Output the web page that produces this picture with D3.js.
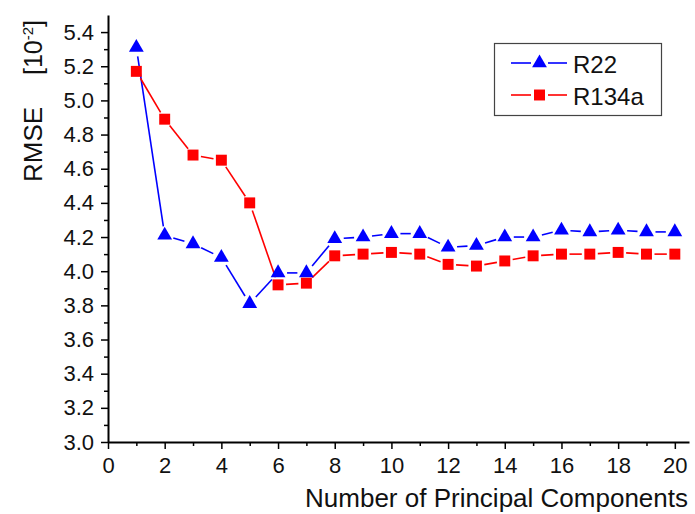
<!DOCTYPE html>
<html>
<head>
<meta charset="utf-8">
<script src="https://cdn.jsdelivr.net/npm/d3@7/dist/d3.min.js"></script>
<style>
  html, body { margin: 0; padding: 0; background: #fff; }
  svg { display: block; font-family: "Liberation Sans", Arial, sans-serif; }
</style>
</head>
<body>
<svg id="chart" width="695" height="514"></svg>
<script>
// Number of principal components retained
const components = d3.range(1, 21);
// RMSE (x10^-2) per refrigerant
const r22 = [5.31, 4.21, 4.16, 4.08, 3.81, 3.99, 3.99, 4.19, 4.20, 4.22,
             4.22, 4.14, 4.15, 4.20, 4.20, 4.24, 4.23, 4.24, 4.23, 4.23];
const r134a = [5.17, 4.89, 4.68, 4.65, 4.40, 3.92, 3.93, 4.09, 4.10, 4.11,
               4.10, 4.04, 4.03, 4.06, 4.09, 4.10, 4.10, 4.11, 4.10, 4.10];
const seriesNames = ["R22", "R134a"];
const xTicks = d3.range(0, 21, 2);
const yTicks = d3.range(0, 13).map(i => +(3.0 + i * 0.2).toFixed(1));

const svg = d3.select("#chart");
const plotLeft = 108, plotRight = 689, plotTop = 15, plotBottom = 442;

const x = d3.scaleLinear().domain([0, 20.5]).range([plotLeft, plotRight]);
const y = d3.scaleLinear().domain([3.0, 5.5]).range([plotBottom, plotTop]);

// Minor ticks
const xMinor = d3.range(1, 21, 2);
const yMinor = d3.range(0, 12).map(i => +(3.1 + i * 0.2).toFixed(1));

svg.append("g").attr("transform", `translate(0,${plotBottom})`)
  .call(d3.axisBottom(x).tickValues(xMinor).tickSize(4).tickFormat(""))
  .call(g => g.select(".domain").remove())
  .selectAll("line").attr("stroke", "#000").attr("stroke-width", 1.5);
svg.append("g").attr("transform", `translate(${plotLeft},0)`)
  .call(d3.axisLeft(y).tickValues(yMinor).tickSize(4).tickFormat(""))
  .call(g => g.select(".domain").remove())
  .selectAll("line").attr("stroke", "#000").attr("stroke-width", 1.5);

// Major axes
const xAxis = svg.append("g").attr("transform", `translate(0,${plotBottom})`)
  .call(d3.axisBottom(x).tickValues(xTicks).tickSize(7).tickSizeOuter(0).tickPadding(8).tickFormat(d3.format("d")));
const yAxis = svg.append("g").attr("transform", `translate(${plotLeft},0)`)
  .call(d3.axisLeft(y).tickValues(yTicks).tickSize(7).tickSizeOuter(0).tickPadding(7).tickFormat(d3.format(".1f")));

[xAxis, yAxis].forEach(g => {
  g.select(".domain").attr("stroke", "#000").attr("stroke-width", 2);
  g.selectAll(".tick line").attr("stroke", "#000").attr("stroke-width", 1.5);
  g.selectAll(".tick text").attr("fill", "#111").style("font-size", "22px")
    .style("font-family", "'Liberation Sans', Arial, sans-serif");
});

// Axis titles
svg.append("text")
  .attr("x", 688).attr("y", 507)
  .attr("text-anchor", "end")
  .style("font-size", "26px").attr("fill", "#111")
  .text("Number of Principal Components");

svg.append("text")
  .attr("transform", "translate(42,182) rotate(-90)")
  .attr("text-anchor", "start")
  .style("font-size", "26px").attr("fill", "#111")
  .text("RMSE");

const unit = svg.append("text")
  .attr("transform", "translate(42,75) rotate(-90)")
  .attr("text-anchor", "start")
  .style("font-size", "25px").attr("fill", "#111");
unit.append("tspan").text("[10");
unit.append("tspan").attr("dy", -9).style("font-size", "15px").text("-2");
unit.append("tspan").attr("dy", 9).text("]");

// Line segments drawn with a gap around each marker
function gappedSegments(values, gap) {
  const pts = values.map((v, i) => [x(components[i]), y(v)]);
  const segs = [];
  for (let i = 0; i < pts.length - 1; i++) {
    const [x0, y0] = pts[i], [x1, y1] = pts[i + 1];
    const dx = x1 - x0, dy = y1 - y0, len = Math.hypot(dx, dy);
    if (len <= 2 * gap) continue;
    const ux = dx / len, uy = dy / len;
    segs.push([[x0 + ux * gap, y0 + uy * gap], [x1 - ux * gap, y1 - uy * gap]]);
  }
  return segs;
}

const line = d3.line();
const series = [
  { name: seriesNames[0], values: r22, color: "#0000ff", symbol: d3.symbolTriangle, size: 95, gap: 9 },
  { name: seriesNames[1], values: r134a, color: "#ff0000", symbol: d3.symbolSquare, size: 120, gap: 8 }
];

series.forEach(s => {
  svg.append("g").selectAll("path")
    .data(gappedSegments(s.values, s.gap))
    .join("path")
    .attr("d", line)
    .attr("fill", "none")
    .attr("stroke", s.color)
    .attr("stroke-width", 1.6);
});

series.forEach(s => {
  svg.append("g").selectAll("path")
    .data(s.values)
    .join("path")
    .attr("transform", (d, i) => `translate(${x(components[i])},${y(d)})`)
    .attr("d", d3.symbol().type(s.symbol).size(s.size))
    .attr("fill", s.color);
});

// Legend
const legend = svg.append("g");
legend.append("rect")
  .attr("x", 494.5).attr("y", 43.5).attr("width", 167).attr("height", 72)
  .attr("fill", "#fff").attr("stroke", "#444").attr("stroke-width", 1.2);

series.forEach((s, i) => {
  const ly = 63 + i * 32;
  legend.append("line").attr("x1", 511).attr("x2", 531).attr("y1", ly).attr("y2", ly)
    .attr("stroke", s.color).attr("stroke-width", 1.6);
  legend.append("line").attr("x1", 548).attr("x2", 567).attr("y1", ly).attr("y2", ly)
    .attr("stroke", s.color).attr("stroke-width", 1.6);
  legend.append("path")
    .attr("transform", `translate(539.5,${ly})`)
    .attr("d", d3.symbol().type(s.symbol).size(s.size))
    .attr("fill", s.color);
  legend.append("text")
    .attr("x", 573).attr("y", ly + 9.5)
    .style("font-size", "24px").attr("fill", "#111")
    .text(s.name);
});
</script>
</body>
</html>
